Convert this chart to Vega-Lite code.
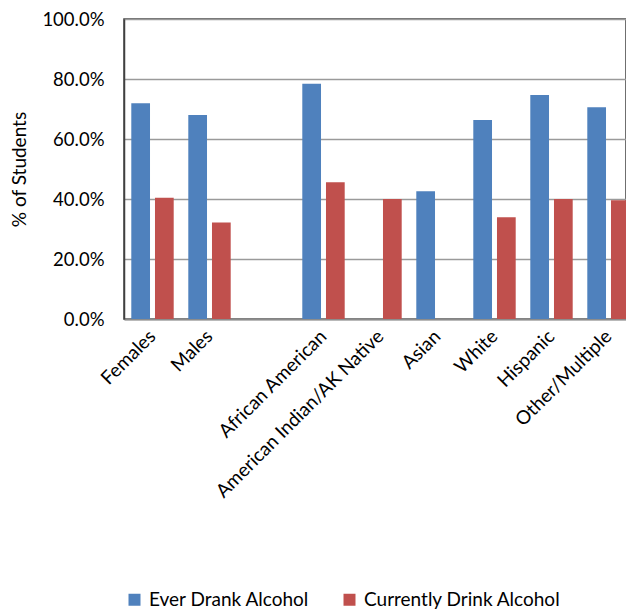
{
  "$schema": "https://vega.github.io/schema/vega-lite/v6.json",
  "autosize": {"type": "none"},
  "padding": {"left": 124, "top": 19, "right": 0, "bottom": 290},
  "width": 502,
  "height": 300,
  "background": "white",
  "config": {
    "font": "Lato",
    "view": {"stroke": "#404040", "strokeWidth": 1.5}
  },
  "data": {
    "values": [
      {"group": "Females", "measure": "Ever Drank Alcohol", "value": 0.719},
      {"group": "Females", "measure": "Currently Drink Alcohol", "value": 0.404},
      {"group": "Males", "measure": "Ever Drank Alcohol", "value": 0.680},
      {"group": "Males", "measure": "Currently Drink Alcohol", "value": 0.322},
      {"group": "African American", "measure": "Ever Drank Alcohol", "value": 0.784},
      {"group": "African American", "measure": "Currently Drink Alcohol", "value": 0.456},
      {"group": "American Indian/AK Native", "measure": "Currently Drink Alcohol", "value": 0.400},
      {"group": "Asian", "measure": "Ever Drank Alcohol", "value": 0.426},
      {"group": "White", "measure": "Ever Drank Alcohol", "value": 0.663},
      {"group": "White", "measure": "Currently Drink Alcohol", "value": 0.339},
      {"group": "Hispanic", "measure": "Ever Drank Alcohol", "value": 0.747},
      {"group": "Hispanic", "measure": "Currently Drink Alcohol", "value": 0.400},
      {"group": "Other/Multiple", "measure": "Ever Drank Alcohol", "value": 0.706},
      {"group": "Other/Multiple", "measure": "Currently Drink Alcohol", "value": 0.396}
    ]
  },
  "mark": {"type": "bar", "clip": true},
  "encoding": {
    "x": {
      "field": "group",
      "type": "nominal",
      "sort": null,
      "scale": {
        "domain": ["Females", "Males", " ", "African American", "American Indian/AK Native", "Asian", "White", "Hispanic", "Other/Multiple"],
        "range": [0, 513],
        "paddingInner": 0.256,
        "paddingOuter": 0.128
      },
      "axis": {
        "title": null,
        "labelAngle": -45,
        "labelAlign": "right",
        "labelBaseline": "middle",
        "labelFont": "Lato",
        "labelFontSize": 19,
        "labelLimit": 0,
        "labelColor": "#000000",
        "labelPadding": 14,
        "ticks": false,
        "domain": true,
        "domainColor": "#8c8c8c",
        "domainWidth": 2,
        "grid": false
      }
    },
    "xOffset": {
      "field": "measure",
      "type": "nominal",
      "sort": ["Ever Drank Alcohol", "Currently Drink Alcohol"],
      "scale": {"paddingInner": 0.21, "paddingOuter": 0}
    },
    "y": {
      "field": "value",
      "type": "quantitative",
      "scale": {"domain": [0, 1]},
      "axis": {
        "title": "% of Students",
        "titleFont": "Lato",
        "titleFontSize": 19,
        "titleFontWeight": "normal",
        "titleColor": "#000000",
        "titlePadding": 12,
        "format": ".1%",
        "values": [0, 0.2, 0.4, 0.6, 0.8, 1.0],
        "labelFont": "Lato",
        "labelFontSize": 18.5,
        "labelColor": "#000000",
        "labelPadding": 20,
        "ticks": false,
        "domain": true,
        "domainColor": "#404040",
        "domainWidth": 1.5,
        "grid": true,
        "gridColor": "#9a9a9a",
        "gridWidth": 1.5
      }
    },
    "color": {
      "field": "measure",
      "type": "nominal",
      "sort": ["Ever Drank Alcohol", "Currently Drink Alcohol"],
      "scale": {"domain": ["Ever Drank Alcohol", "Currently Drink Alcohol"], "range": ["#4F81BD", "#C0504D"]},
      "legend": {
        "title": null,
        "orient": "none",
        "legendX": 1,
        "legendY": 571,
        "direction": "horizontal",
        "symbolType": "square",
        "symbolSize": 144,
        "symbolStrokeWidth": 0,
        "labelFont": "Lato",
        "labelFontSize": 19,
        "labelLimit": 0,
        "labelColor": "#000000",
        "labelOffset": 5,
        "columnPadding": 30
      }
    }
  }
}
